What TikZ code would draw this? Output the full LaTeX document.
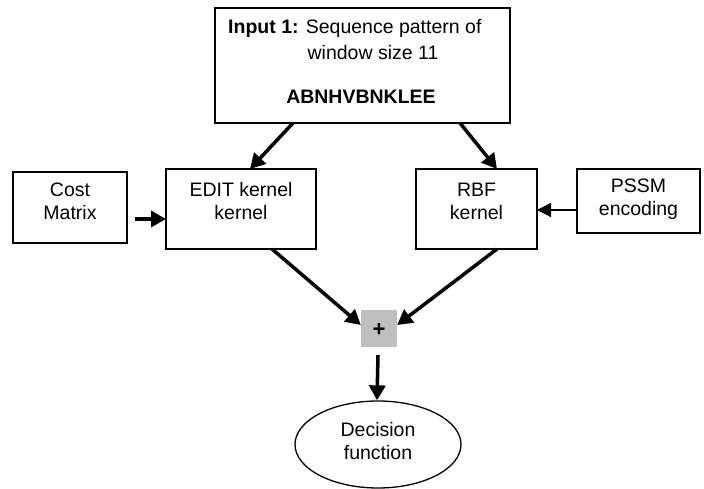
\documentclass[tikz,border=0pt]{standalone}
\usepackage{fontspec}
\setmainfont{Liberation Sans}
\usetikzlibrary{arrows.meta,shapes.geometric}

\tikzset{
  box/.style={draw, line width=1.3pt, inner sep=0pt, outer sep=0pt},
  txt/.style={inner sep=0pt, align=center, font=\fontsize{19.5}{23}\selectfont},
  heavy/.style={line width=3.5pt, -{Triangle[length=15pt,width=16pt]}},
  light/.style={line width=1.2pt, -{Triangle[length=14pt,width=14pt]}},
}

\begin{document}
\begin{tikzpicture}[x=1pt, y=-1pt]
  \useasboundingbox (0,0) rectangle (704,489);

  % input pattern box
  \node[box, minimum width=295pt, minimum height=115pt] (top) at (362.5,65.5) {};
  \node[txt, anchor=west] (in1) at (228,28) {\textbf{Input 1:} Sequence pattern of};
  \node[txt] (in2) at (373,53) {window size 11};
  \node[txt] (in3) at (361,97) {\textbf{ABNHVBNKLEE}};

  % kernels and their inputs
  \node[box, minimum width=114pt, minimum height=71pt] (cost) at (70,207.5) {};
  \node[txt] (costt) at (70,201) {Cost\\Matrix};

  \node[box, minimum width=150pt, minimum height=80pt] (edit) at (241,209) {};
  \node[txt] (editt) at (241,201) {EDIT kernel\\kernel};

  \node[box, minimum width=121pt, minimum height=80pt] (rbf) at (476.5,209) {};
  \node[txt] (rbft) at (476.5,201) {RBF\\kernel};

  \node[box, minimum width=123pt, minimum height=64pt] (pssm) at (638.5,201) {};
  \node[txt] (pssmt) at (638.5,199) {PSSM\\encoding};

  % combination and decision
  \node[fill=black!25, minimum width=36pt, minimum height=37pt, inner sep=0pt] (plus) at (379,328.5) {};
  \node[txt, font=\fontsize{22}{24}\selectfont] (plust) at (379,330) {\textbf{+}};

  \node[draw, ellipse, line width=1.3pt, minimum width=166pt, minimum height=87pt, inner sep=0pt] (dec) at (378,444.5) {};
  \node[txt] (dect) at (378,441.5) {Decision\\function};

  % connectors
  \draw[heavy] ([xshift=78pt]top.south west) -- ([xshift=84pt]edit.north west);
  \draw[heavy] ([xshift=245pt]top.south west) -- ([xshift=81pt]rbf.north west);
  \draw[heavy] ([xshift=8pt,yshift=-11.5pt]cost.east) -- ([yshift=-10pt]edit.west);
  \draw[light] ([yshift=-9pt]pssm.west) -- ([yshift=-1pt]rbf.east);
  \draw[heavy] ([xshift=106pt]edit.south west) -- ([yshift=3.5pt]plus.west);
  \draw[heavy] ([xshift=81pt]rbf.south west) -- ([yshift=3.5pt]plus.east);
  \draw[heavy] ([yshift=-8pt,xshift=-1pt]plus.south) -- ([xshift=-1pt]dec.north);
\end{tikzpicture}
\end{document}
